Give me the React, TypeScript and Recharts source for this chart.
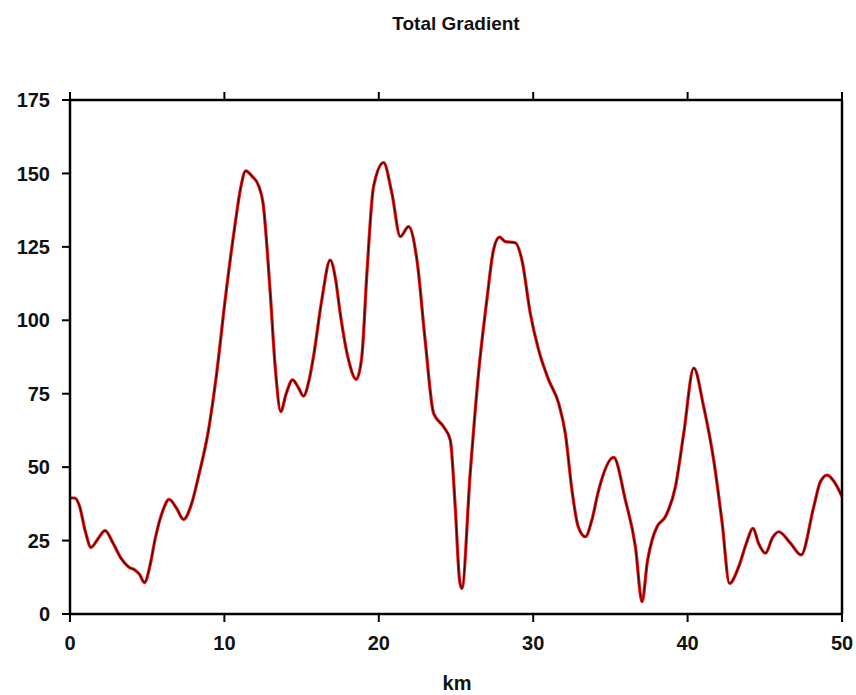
import { LineChart, Line, XAxis, YAxis } from "recharts"

const km = [
    0, 0.3, 0.6, 1.0, 1.36, 1.8, 2.27, 2.8, 3.3, 3.8, 4.2, 4.5, 4.82, 5.2, 5.5,
    6.0, 6.42, 6.9, 7.35, 7.9, 8.32, 8.97, 9.5, 10.05, 10.7, 11.05, 11.38, 11.8,
    12.2, 12.5, 12.96, 13.29, 13.65, 14.0, 14.41, 14.8, 15.12, 15.5, 15.77,
    16.31, 16.85, 17.2, 17.5, 18.04, 18.54, 18.9, 19.23, 19.66, 20.31, 20.85,
    21.39, 21.93, 22.47, 23.0, 23.55, 24.19, 24.63, 24.95, 25.23, 25.38, 25.92,
    26.46, 27.0, 27.43, 27.82, 28.19, 28.84, 29.27, 29.81, 30.35, 31.0, 31.65,
    32.08, 32.51, 32.9, 33.38, 33.8, 34.24, 35.21, 35.97, 36.62, 37.05, 37.4,
    37.7, 38.02, 38.56, 39.21, 39.75, 40.4, 41.04, 41.69, 42.24, 42.71, 43.31,
    43.8, 44.24, 44.6, 45.04, 45.5, 45.9, 46.66, 47.35, 48.17, 48.6, 49.04,
    49.5, 50
]

const gradient = [
    39.5, 39.5, 37, 28, 22.7, 25.5, 28.4, 24, 19, 16, 15, 13.5, 10.7, 17, 25.2,
    35, 39, 36, 32.2, 38, 46.8, 62.6, 82, 107, 133, 145, 150.9, 149,
    146, 140, 110, 84.2, 68.9, 75, 79.7, 77, 74.2, 80, 87.6,
    107, 120.5, 114, 102.4, 86.5, 79.9, 87.6, 116, 145.5, 153.7, 143.2,
    128.5, 131.9, 120.5, 93.3, 68.3, 63.8, 59.2, 36.5, 11.6, 8.7, 47.9,
    82, 107, 124, 128.3, 126.8, 126.4, 120.5, 102.4, 89.9, 79.7, 71.7,
    61.5, 42.2, 30, 26.3, 32, 42.2, 53.3, 38.8, 22.9, 4.2, 18,
    25.2, 29.7, 33.1, 43.3, 61.5, 83.7, 70.6, 52.4, 30.9, 10.4, 16.1,
    24, 29.2, 24, 20.7, 26, 28, 24.1, 20.1, 36.5, 45, 47.3,
    45, 40
]

const xTicks = [0, 10, 20, 30, 40, 50]
const yTicks = [0, 25, 50, 75, 100, 125, 150, 175]

// body margin is removed so the chart fills the whole window
const W = 856
const H = 695
const font = "'Liberation Sans', Arial, Helvetica, sans-serif"

export default function App() {
    const data = km.map((k, i) => ({ km: k, value: gradient[i] }))
    const tickStyle = { fontSize: 20, fontWeight: "bold", fill: "#111", fontFamily: font }
    const axisLine = { stroke: "#000", strokeWidth: 2.5 }
    const tickLine = { stroke: "#000", strokeWidth: 2 }

    return (
        <div style={{ position: "relative", width: W, height: H, background: "#fff" }}>
            <style>{`body { margin: 0; }`}</style>
            <LineChart
                width={W}
                height={H}
                data={data}
                margin={{ top: 90, right: 4, bottom: 51, left: 20 }}
            >
                <XAxis
                    dataKey="km"
                    type="number"
                    domain={[0, 50]}
                    ticks={xTicks}
                    height={30}
                    tickSize={8}
                    tickMargin={14}
                    axisLine={axisLine}
                    tickLine={tickLine}
                    tick={tickStyle}
                    interval={0}
                />
                <XAxis
                    xAxisId="top"
                    dataKey="km"
                    type="number"
                    orientation="top"
                    domain={[0, 50]}
                    ticks={xTicks}
                    height={10}
                    tickSize={8}
                    axisLine={axisLine}
                    tickLine={tickLine}
                    tickFormatter={() => ""}
                    interval={0}
                />
                <YAxis
                    domain={[0, 175]}
                    ticks={yTicks}
                    width={50}
                    tickSize={8}
                    tickMargin={12}
                    axisLine={axisLine}
                    tickLine={tickLine}
                    tick={tickStyle}
                    interval={0}
                />
                <YAxis
                    yAxisId="right"
                    orientation="right"
                    domain={[0, 175]}
                    ticks={yTicks}
                    width={10}
                    tickSize={8}
                    axisLine={axisLine}
                    tickLine={tickLine}
                    tickFormatter={() => ""}
                    interval={0}
                />
                <Line
                    dataKey="value"
                    type="monotone"
                    stroke="#f01414"
                    strokeWidth={3.2}
                    dot={false}
                    isAnimationActive={false}
                />
                <Line
                    dataKey="value"
                    type="monotone"
                    stroke="#3c0402"
                    strokeWidth={1.2}
                    dot={false}
                    isAnimationActive={false}
                />
            </LineChart>
            <svg
                width={W}
                height={H}
                style={{ position: "absolute", left: 0, top: 0, pointerEvents: "none" }}
            >
                <text
                    x={456}
                    y={30}
                    textAnchor="middle"
                    fontFamily={font}
                    fontSize={19}
                    fontWeight="bold"
                    fill="#111"
                >
                    Total Gradient
                </text>
                <text
                    x={457}
                    y={690}
                    textAnchor="middle"
                    fontFamily={font}
                    fontSize={20}
                    fontWeight="bold"
                    fill="#111"
                >
                    km
                </text>
            </svg>
        </div>
    )
}
